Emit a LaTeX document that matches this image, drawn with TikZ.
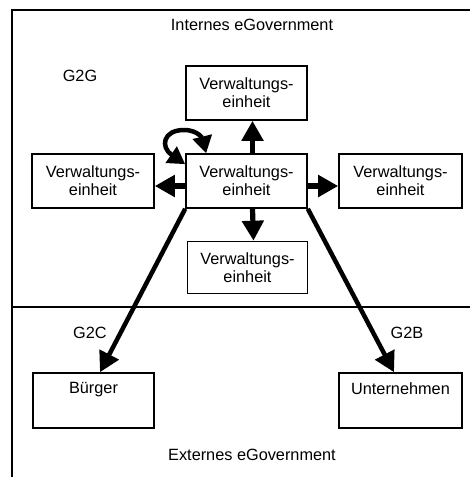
\documentclass[tikz,border=0pt]{standalone}
\usepackage{fontspec}
\setmainfont{Liberation Sans}
\usetikzlibrary{arrows.meta}
\begin{document}
\begin{tikzpicture}[x=1pt,y=-1pt,
  every node/.style={font=\fontsize{16.3}{18}\selectfont},
  box/.style={draw,line width=1.6pt,minimum width=121pt,minimum height=54pt,inner sep=0pt,align=center},
  arr/.style={line width=5.2pt,-{Triangle[length=20pt,width=21pt]}},
  frame/.style={line width=2.4pt}]
\useasboundingbox (0,0) rectangle (470,477);
\draw[frame] (470,10) -- (12,10) -- (12,477);
\draw[frame] (12,307) -- (470,307);
\node (tin) at (252,25) {Internes eGovernment};
\node (tex) at (252,455) {Externes eGovernment};
\node (g2g) at (80,76) {G2G};
\node (g2c) at (90,333) {G2C};
\node (g2b) at (407,333) {G2B};
\node[box] (T) at (246.5,93) {Verwaltungs-\\einheit};
\node[box] (C) at (246.5,181) {Verwaltungs-\\einheit};
\node[box,minimum width=122pt] (L) at (93,181) {Verwaltungs-\\einheit};
\node[box,minimum width=123pt] (R) at (400.5,181) {Verwaltungs-\\einheit};
\node[box,minimum width=120pt,minimum height=52pt] (B) at (247.5,267.5) {Verwaltungs-\\einheit};
\node[box,minimum height=55pt,label={[anchor=north,yshift=-7pt]north:Bürger}] (Bu) at (93.5,400.5) {};
\node[box,minimum width=123pt,minimum height=55pt,label={[anchor=north,yshift=-7pt]north:Unternehmen}] (U) at (400.5,400.5) {};
\draw[arr] ([xshift=6pt]C.north) -- ([xshift=6pt]T.south);
\draw[arr] ([xshift=6pt]C.south) -- ([xshift=6pt]B.north);
\draw[arr] ([yshift=-5pt]C.west) -- ([yshift=-5pt]L.east);
\draw[arr] ([yshift=-5pt]C.east) -- ([yshift=-5pt]R.west);
\draw[arr,line width=4.5pt] (C.south west) -- ([xshift=6.5pt]Bu.north);
\draw[arr,line width=4.5pt] (C.south east) -- ([xshift=-6.5pt]U.north);
\coordinate (la) at ([yshift=-11pt]C.north west);
\coordinate (lb) at ([xshift=21pt]C.north west);
\coordinate (ltop) at (184,130);
\draw[line width=4.5pt,{Triangle[length=17pt,width=19pt]}-{Triangle[length=17pt,width=19pt]}] (la) .. controls (160,147) and (163,130) .. (ltop) .. controls (199,130) and (203,140) .. (lb);
\end{tikzpicture}
\end{document}
